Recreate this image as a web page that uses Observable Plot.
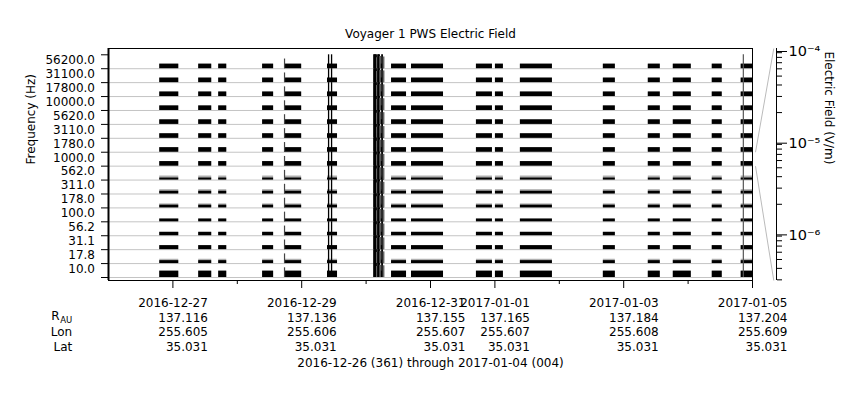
<!DOCTYPE html>
<html><head><meta charset="utf-8">
<script src="https://cdn.jsdelivr.net/npm/d3@7"></script>
<script src="https://cdn.jsdelivr.net/npm/@observablehq/plot@0.6"></script>
<style>
body{margin:0;background:#fff}
#wrap{position:relative;width:860px;height:400px}
#wrap svg{position:absolute;left:0;top:0}
</style>
</head><body><div id="wrap"></div>
<script>
// ---- data ----
const titleText = "Voyager 1 PWS Electric Field";
const footerText = "2016-12-26 (361) through 2017-01-04 (004)";
const freqLabels = ["56200.0","31100.0","17800.0","10000.0","5620.0","3110.0","1780.0","1000.0","562.0","311.0","178.0","100.0","56.2","31.1","17.8","10.0"];
const baseLevel = [2.0e-6,2.0e-6,2.0e-6,2.0e-6,2.0e-6,2.0e-6,2.0e-6,2.0e-6,6.9e-7,9.3e-7,9.3e-7,9.3e-7,1.2e-6,1.6e-6,1.0e-6,4.2e-6];
const peakLevel = [2.0e-6,2.0e-6,2.0e-6,2.0e-6,2.0e-6,2.0e-6,2.0e-6,2.0e-6,1.6e-6,1.8e-6,1.6e-6,1.1e-6,1.4e-6,1.6e-6,1.8e-6,4.2e-6];
const segStart = ["2016-12-26T19:06Z","2016-12-27T09:37Z","2016-12-27T17:04Z","2016-12-28T09:26Z","2016-12-28T17:37Z","2016-12-29T09:37Z","2016-12-30T03:07Z","2016-12-30T09:29Z","2016-12-30T16:55Z","2016-12-31T17:07Z","2017-01-01T00:12Z","2017-01-01T09:30Z","2017-01-02T16:25Z","2017-01-03T09:10Z","2017-01-03T18:29Z","2017-01-04T09:00Z","2017-01-04T19:47Z"];
const segEnd   = ["2016-12-27T02:11Z","2016-12-27T14:28Z","2016-12-27T20:04Z","2016-12-28T13:32Z","2016-12-28T23:59Z","2016-12-29T13:21Z","2016-12-30T06:50Z","2016-12-30T15:04Z","2016-12-31T04:51Z","2016-12-31T23:05Z","2017-01-01T03:10Z","2017-01-01T21:26Z","2017-01-02T20:53Z","2017-01-03T13:38Z","2017-01-04T01:11Z","2017-01-04T12:43Z","2017-01-05T00:00Z"];
const spikeTime  = ["2016-12-28T17:36Z","2016-12-29T10:01Z","2016-12-29T11:08Z","2016-12-30T02:58Z","2016-12-30T03:20Z","2016-12-30T03:42Z","2016-12-30T04:05Z","2016-12-30T04:27Z","2016-12-30T04:50Z","2016-12-30T05:12Z","2016-12-30T05:57Z","2016-12-30T06:30Z","2017-01-04T20:35Z"];
const spikeValue = [1.7e-5,1e-4,1e-4,1e-4,1e-4,1e-4,3e-5,1e-4,1e-4,5e-5,1e-4,4e-5,1e-4];
const spikeShade = ["#444","#000","#000","#000","#000","#000","#777","#000","#000","#555","#000","#666","#555"];
const spikeWidth = [1.2,1.3,1.3,1.8,1.8,1.8,1.8,1.8,1.8,1.8,1.8,1.8,1.2];
const tickDates = ["2016-12-27","2016-12-29","2016-12-31","2017-01-01","2017-01-03","2017-01-05"];
const minorTickDates = ["2016-12-28","2016-12-30","2017-01-02","2017-01-04"];
const rAU = ["137.116","137.136","137.155","137.165","137.184","137.204"];
const lonDeg = ["255.605","255.606","255.607","255.607","255.608","255.609"];
const latDeg = ["35.031","35.031","35.031","35.031","35.031","35.031"];
const fieldTicks = [1e-4,1e-5,1e-6];
const fieldTickLabels = ["10\u207B\u2074","10\u207B\u2075","10\u207B\u2076"];
const fieldMin = 2.95e-7, fieldMax = 1e-4;
const xStart = "2016-12-26T00:00Z", xEnd = "2017-01-05T00:00Z";

// ---- layout ----
const W = 860, H = 400, mT = 48, mB = 120, mL = 108, mR = 108;
const bandPx = 13.92;
const yLo = -3 / bandPx, yHi = 16 + 6.3 / bandPx;
const nBands = freqLabels.length;
const norm = v => (Math.log10(v) - Math.log10(fieldMin)) / (Math.log10(fieldMax) - Math.log10(fieldMin));
const bandOf = i => nBands - 1 - i;
const font = "DejaVu Sans";

const bars = [];
freqLabels.forEach((f, i) => segStart.forEach((s, j) => bars.push({
  x1: new Date(s), x2: new Date(segEnd[j]), band: bandOf(i), base: baseLevel[i], peak: peakLevel[i]
})));
const spikes = [];
freqLabels.forEach((f, i) => spikeTime.forEach((t, j) => spikes.push({
  t: new Date(t), band: bandOf(i), v: spikeValue[j], c: spikeShade[j], w: spikeWidth[j]
})));
const tickRows = tickDates.map((d, i) => ({date: new Date(d + "T00:00Z"), label: d, r: rAU[i], lon: lonDeg[i], lat: latDeg[i]}));

const main = Plot.plot({
  width: W, height: H, marginTop: mT, marginBottom: mB, marginLeft: mL, marginRight: mR,
  style: {fontFamily: font, fontSize: "12px", background: "white", color: "black", overflow: "visible"},
  x: {type: "utc", domain: [new Date(xStart), new Date(xEnd)]},
  y: {domain: [yLo, yHi]},
  marks: [
    Plot.ruleY(d3.range(nBands), {stroke: "#c4c4c4"}),
    Plot.rect(bars, {x1: "x1", x2: "x2", y1: "band", y2: d => d.band + norm(d.peak), fill: "#b0b0b0"}),
    Plot.rect(bars, {x1: "x1", x2: "x2", y1: "band", y2: d => d.band + norm(d.base), fill: "black"}),
    Plot.ruleX(spikes, {x: "t", y1: "band", y2: d => d.band + norm(d.v), stroke: "c", strokeWidth: "w"}),
    Plot.frame({stroke: "black"}),
    Plot.ruleX([new Date(xStart)], {stroke: "black", strokeWidth: 2}),
    Plot.axisY({ticks: d3.range(nBands + 1), tickSize: 7, tickFormat: () => "", label: null}),
    Plot.axisY({ticks: d3.range(nBands).map(i => i + 0.5), tickSize: 0, tickPadding: 13.5, dy: -1.5,
      tickFormat: d => freqLabels[nBands - 1 - Math.floor(d)], label: null}),
    Plot.axisX({ticks: tickRows.map(d => d.date), tickSize: 8, tickFormat: () => "", label: null}),
    Plot.axisX({ticks: minorTickDates.map(d => new Date(d + "T00:00Z")), tickSize: 4, tickFormat: () => "", label: null}),
    Plot.text(tickRows, {x: "date", frameAnchor: "bottom", text: d => [d.label, d.r, d.lon, d.lat].join("\n"),
      textAnchor: "end", dx: 35, dy: 16, lineAnchor: "top", lineHeight: 1.22, fontSize: 12}),
    Plot.text(["R"], {frameAnchor: "bottom-left", textAnchor: "end", dx: -49, dy: 16 + 14.64, lineAnchor: "top", fontSize: 12}),
    Plot.text(["AU"], {frameAnchor: "bottom-left", textAnchor: "end", dx: -36.3, dy: 36.7, lineAnchor: "top", fontSize: 8.5}),
    Plot.text(["Lon\nLat"], {frameAnchor: "bottom-left", textAnchor: "end", dx: -36.3, dy: 16 + 2 * 14.64, lineAnchor: "top", lineHeight: 1.22, fontSize: 12}),
    Plot.text([footerText], {frameAnchor: "bottom", dy: 82.3, lineAnchor: "middle", fontSize: 12}),
    Plot.text([titleText], {frameAnchor: "top", dy: -14, lineAnchor: "middle", fontSize: 12}),
    Plot.text(["Frequency (Hz)"], {frameAnchor: "left", dx: -77, rotate: -90, lineAnchor: "middle", fontSize: 12})
  ]
});

// right-hand electric field axis with connectors to the 1000 Hz band
const refBand = bandOf(freqLabels.indexOf("1000.0"));
const bandToField = b => fieldMin * Math.pow(fieldMax / fieldMin, (b - yLo) / (yHi - yLo));
const connectors = [
  {from: bandToField(refBand + 1), to: fieldMax},
  {from: bandToField(refBand), to: fieldMin}
];
const minorField = [];
[1e-7, 1e-6, 1e-5].forEach(dec => d3.range(2, 10).forEach(k => {
  const v = k * dec; if (v >= fieldMin && v <= fieldMax) minorField.push(v);
}));

const over = Plot.plot({
  width: W, height: H, marginTop: mT, marginBottom: mB, marginLeft: 755, marginRight: 84,
  style: {fontFamily: font, fontSize: "12px", background: "transparent", color: "black", overflow: "visible"},
  x: {domain: [0, 1], axis: null},
  y: {type: "log", domain: [fieldMin, fieldMax]},
  marks: [
    Plot.link(connectors, {x1: 0, x2: 0.87, y1: "from", y2: "to", stroke: "#bbb"}),
    Plot.ruleX([1], {stroke: "black"}),
    Plot.axisY({anchor: "right", ticks: minorField, tickSize: 5, tickFormat: () => "", label: null}),
    Plot.axisY({anchor: "right", ticks: fieldTicks, tickSize: 10, tickPadding: 2, dy: 3,
      tickFormat: d => fieldTickLabels[fieldTicks.indexOf(d)], label: null, fontSize: 14.5}),
    Plot.text(["Electric Field (V/m)"], {frameAnchor: "right", dx: 52.5, rotate: 90, lineAnchor: "middle", fontSize: 12})
  ]
});
over.style.background = "transparent";
over.style.pointerEvents = "none";

const wrap = document.getElementById("wrap");
wrap.appendChild(main);
wrap.appendChild(over);
</script>
</body></html>
